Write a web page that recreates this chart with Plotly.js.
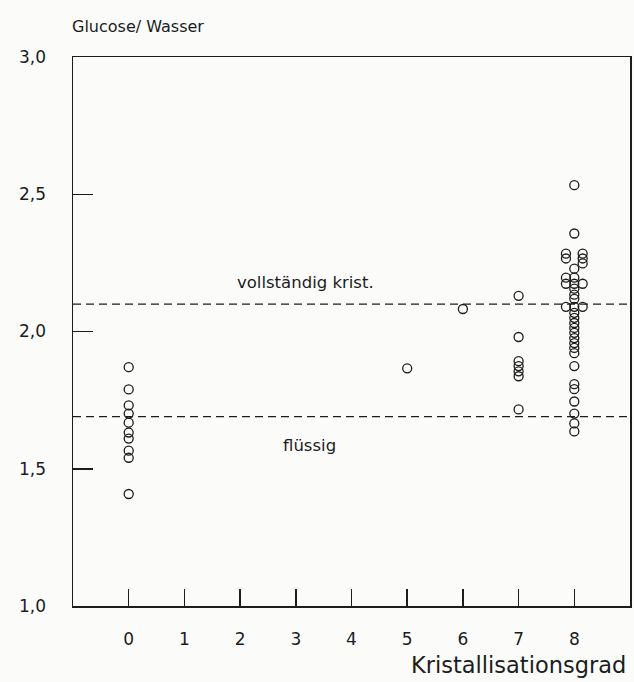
<!DOCTYPE html>
<html>
<head>
<meta charset="utf-8">
<script src="https://cdn.plot.ly/plotly-3.0.1.min.js"></script>
<style>
html,body{margin:0;padding:0;background:#fbfbfa;}
#chart{width:634px;height:682px;}
</style>
</head>
<body>
<div id="chart"></div>
<script>
// Kristallisationsgrad (drawn position; side-by-side circles slightly offset as in the original)
const crystGrade = [
  0,0,0,0,0,0,0,0,0,0,
  5,
  6,
  7,7,7,7,7,7,7,
  8,8,7.85,8.15,7.85,8.15,8.15,8,7.85,8,7.85,8,8.15,8,8,8,7.85,8,8.15,
  8,8,8,8,8,8,8,8,8,8,8,8,8,8,8,8
];
// Glucose/Wasser ratio
const glucoseRatio = [
  1.870,1.789,1.731,1.701,1.668,1.632,1.610,1.566,1.540,1.408,
  1.866,
  2.082,
  2.130,1.980,1.892,1.874,1.855,1.837,1.716,
  2.533,2.357,2.284,2.284,2.266,2.266,2.248,2.229,2.196,2.196,2.174,2.174,2.174,2.156,2.134,2.119,2.090,2.090,2.090,
  2.068,2.050,2.031,2.013,1.995,1.976,1.958,1.940,1.921,1.874,1.808,1.790,1.745,1.701,1.665,1.636
];
const xTickVals = [0,1,2,3,4,5,6,7,8];
const xTickText = ['0','1','2','3','4','5','6','7','8'];
const yTickVals = [1.0,1.5,2.0,2.5,3.0];
const yTickText = ['1,0','1,5','2,0','2,5','3,0'];
const levelValues = [2.10, 1.69];          // vollständig krist., flüssig
const levelLabels = ['vollständig krist.', 'flüssig'];
const levelLabelX = [3.18, 3.24];
const levelLabelY = [2.18, 1.586];

const fontFam = '"DejaVu Sans", "Liberation Sans", sans-serif';
const ink = '#1c1c1c';

const trace = {
  type: 'scatter',
  mode: 'markers',
  x: crystGrade,
  y: glucoseRatio,
  marker: {symbol: 'circle-open', size: 9, color: ink, line: {width: 1.3, color: ink}},
  hoverinfo: 'x+y',
  showlegend: false
};

const shapes = levelValues.map(v => ({
  type: 'line', xref: 'paper', yref: 'y', x0: 0, x1: 1, y0: v, y1: v,
  line: {color: ink, width: 1.2, dash: '8px,5px'}
}));

const annotations = levelLabels.map((t, i) => ({
  text: t, x: levelLabelX[i], y: levelLabelY[i], xref: 'x', yref: 'y',
  showarrow: false, font: {family: fontFam, size: 16.5, color: ink}
}));
annotations.push({
  text: 'Glucose/ Wasser', xref: 'paper', yref: 'paper', x: -0.005, y: 1.035,
  xanchor: 'left', yanchor: 'bottom', showarrow: false,
  font: {family: fontFam, size: 16, color: ink}
});
annotations.push({
  text: 'Kristallisationsgrad', xref: 'paper', yref: 'paper', x: 0.997, y: -0.08,
  xanchor: 'right', yanchor: 'top', showarrow: false,
  font: {family: fontFam, size: 22.5, color: ink}
});

const layout = {
  width: 634, height: 682,
  margin: {l: 73, r: 4, t: 57, b: 76},
  paper_bgcolor: '#fbfbfa', plot_bgcolor: '#fbfbfa',
  xaxis: {
    range: [-1.0, 9.0], tickvals: xTickVals, ticktext: xTickText,
    ticks: 'inside', ticklen: 17, tickwidth: 1.5, tickcolor: ink,
    showline: true, mirror: true, linecolor: ink, linewidth: 1.5,
    showgrid: false, zeroline: false, ticklabelstandoff: 17,
    tickfont: {family: fontFam, size: 17, color: ink}
  },
  yaxis: {
    range: [1.0, 3.0], tickvals: yTickVals, ticktext: yTickText,
    ticks: 'inside', ticklen: 20, tickwidth: 1.5, tickcolor: ink,
    showline: true, mirror: true, linecolor: ink, linewidth: 1.5,
    showgrid: false, zeroline: false, ticklabelstandoff: 22,
    tickfont: {family: fontFam, size: 17, color: ink}
  },
  shapes: shapes,
  annotations: annotations
};

Plotly.newPlot('chart', [trace], layout, {displayModeBar: false, staticPlot: true});
</script>
</body>
</html>
